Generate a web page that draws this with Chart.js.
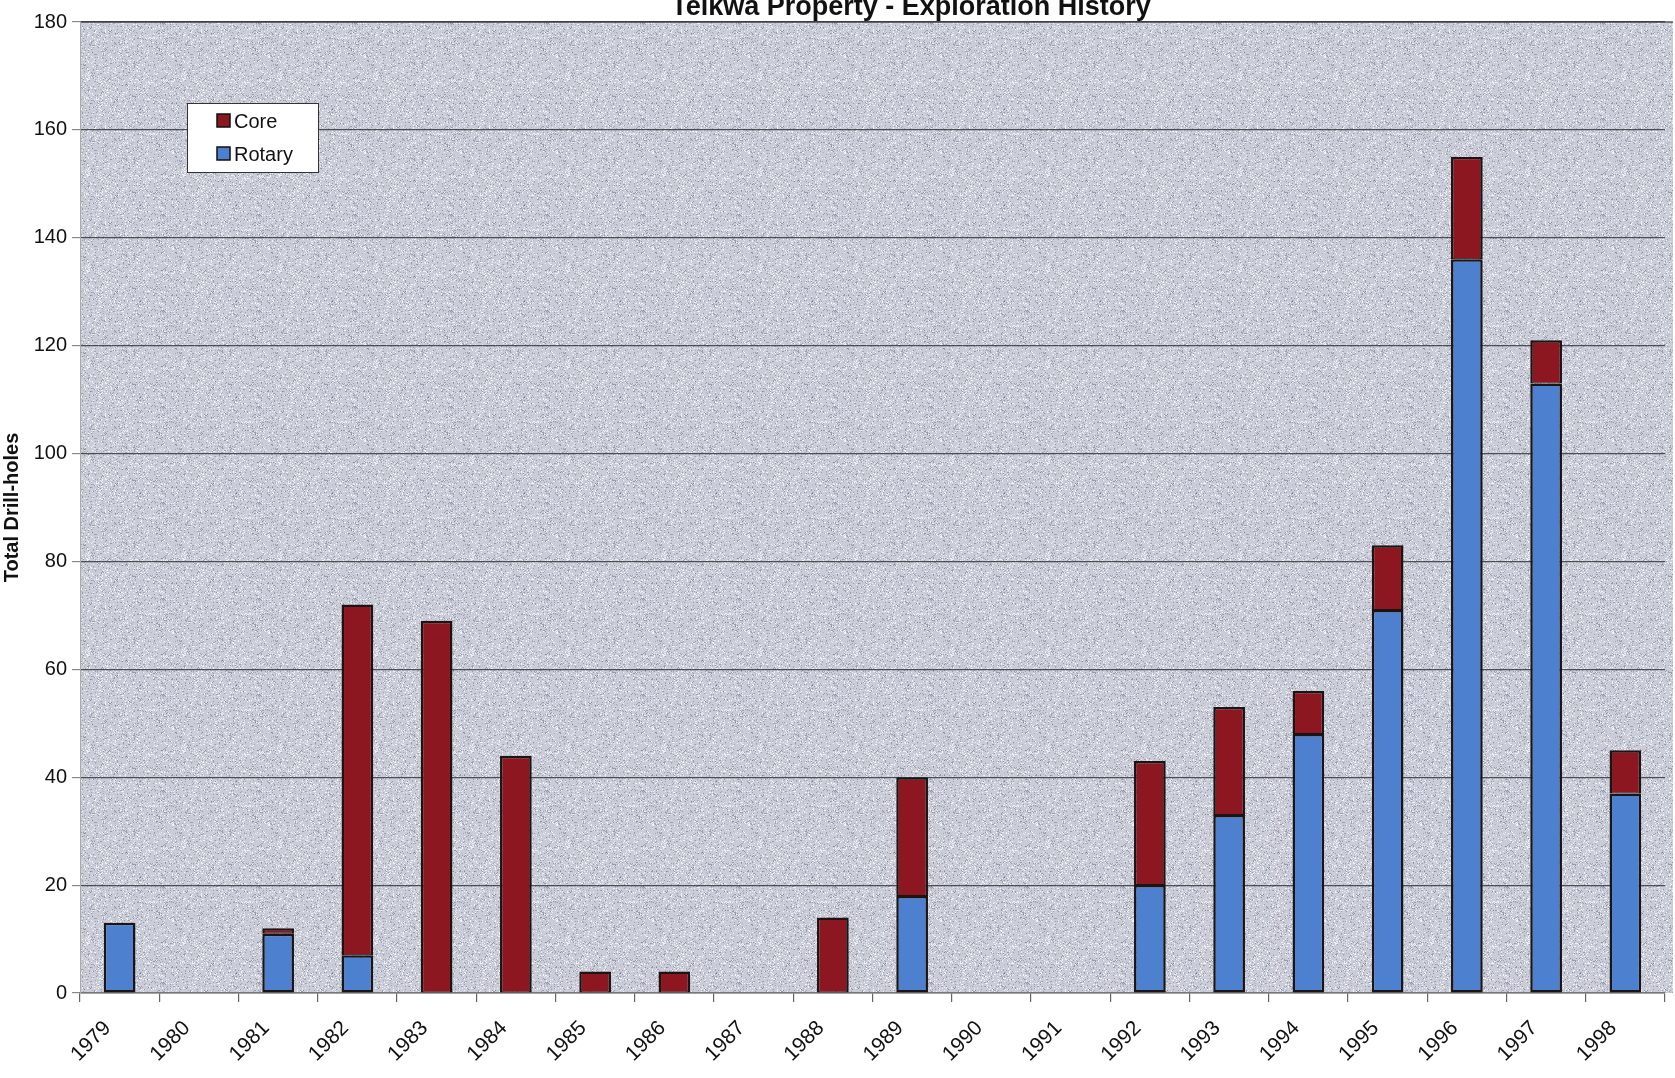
<!DOCTYPE html>
<html>
<head>
<meta charset="utf-8">
<script src="https://cdn.jsdelivr.net/npm/chart.js@4.4.1/dist/chart.umd.min.js"></script>
<style>
  body { margin: 0; background: #fff; overflow: hidden; }
  canvas { display: block; }
</style>
</head>
<body>
<canvas id="chart" width="1675" height="1078"></canvas>
<script>
const years = ["1979", "1980", "1981", "1982", "1983", "1984", "1985", "1986", "1987", "1988",
  "1989", "1990", "1991", "1992", "1993", "1994", "1995", "1996", "1997", "1998"],
  rotary = [13, 0, 11, 7, 0, 0, 0, 0, 0, 0, 18, 0, 0, 20, 33, 48, 71, 136, 113, 37],
  core = [0, 0, 1, 65, 69, 44, 4, 4, 0, 14, 22, 0, 0, 23, 20, 8, 12, 19, 8, 8],
  yMax = 180,
  yStep = 20,
  titleText = "Telkwa Property - Exploration History",
  font = '"Liberation Sans", Arial, sans-serif';

// speckled grey-blue fill like the scanned plot area
function speckle(base, seed) {
  const c = document.createElement("canvas");
  c.width = c.height = 96;
  const g = c.getContext("2d");
  g.fillStyle = base;
  g.fillRect(0, 0, 96, 96);
  let s = seed;
  const next = () => ((s = (s * 1103515245 + 12345) % 2147483648) / 2147483648);
  for (let i = 0; i < 2400; i++) {
    const x = Math.floor(next() * 96), y = Math.floor(next() * 96), r = next();
    g.fillStyle = r < 0.4 ? "rgba(110,112,125,0.5)" : r < 0.85 ? "rgba(248,249,255,0.85)" : "rgba(130,150,205,0.45)";
    g.fillRect(x, y, 1, 1);
  }
  return g.createPattern(c, "repeat");
}

const bgPlugin = {
  id: "plotBg",
  beforeDraw(chart) {
    const { ctx, chartArea: a } = chart;
    ctx.save();
    ctx.fillStyle = speckle("#cacdd8", 7);
    ctx.fillRect(a.left, a.top, a.right - a.left + 8, a.bottom - a.top);
    ctx.strokeStyle = "#555";
    ctx.lineWidth = 1.5;
    ctx.beginPath();
    ctx.moveTo(a.left, a.top);
    ctx.lineTo(a.right + 8, a.top);
    ctx.stroke();
    ctx.restore();
  },
};

const textPlugin = {
  id: "texts",
  afterDraw(chart) {
    const ctx = chart.ctx;
    ctx.save();
    ctx.fillStyle = "#111";
    ctx.font = "bold 27px " + font;
    ctx.textAlign = "center";
    ctx.textBaseline = "alphabetic";
    ctx.fillText(titleText, 911, 15);

    // legend box
    const bx = 187, by = 103, bw = 131, bh = 69;
    ctx.fillStyle = "#fff";
    ctx.fillRect(bx, by, bw, bh);
    ctx.strokeStyle = "#333";
    ctx.lineWidth = 1;
    ctx.strokeRect(bx + 0.5, by + 0.5, bw, bh);
    const items = chart.data.datasets.slice().reverse();
    ctx.font = "20px " + font;
    ctx.textAlign = "left";
    ctx.textBaseline = "middle";
    items.forEach((ds, i) => {
      const y = 121 + i * 33;
      ctx.fillStyle = ds.backgroundColor;
      ctx.fillRect(217, y - 7, 13, 13);
      ctx.strokeStyle = "#111";
      ctx.lineWidth = 1.5;
      ctx.strokeRect(217, y - 7, 13, 13);
      ctx.fillStyle = "#111";
      ctx.fillText(ds.label, 234, y + 1);
    });
    ctx.restore();
  },
};

new Chart(document.getElementById("chart"), {
  type: "bar",
  data: {
    labels: years,
    datasets: [
      {
        label: "Rotary",
        data: rotary.map((v) => v || null),
        backgroundColor: "#4d80cf",
        borderColor: "#1a1414",
        borderWidth: 2.5,
        borderSkipped: false,
        barPercentage: 0.4,
        categoryPercentage: 1,
      },
      {
        label: "Core",
        data: core.map((v) => v || null),
        backgroundColor: "#8c1720",
        borderColor: "#1a1414",
        borderWidth: { top: 2.5, left: 2.5, right: 2.5, bottom: 1 },
        borderSkipped: false,
        barPercentage: 0.4,
        categoryPercentage: 1,
      },
    ],
  },
  options: {
    responsive: false,
    devicePixelRatio: 1,
    animation: false,
    layout: { padding: { top: 22, right: 10, left: 0, bottom: 0 } },
    plugins: {
      legend: { display: false },
      title: { display: false },
      tooltip: { enabled: false },
    },
    scales: {
      x: {
        stacked: true,
        afterFit: (s) => { s.height = 85; },
        grid: { display: true, drawOnChartArea: false, offset: true, tickLength: 9, tickColor: "#666", lineWidth: 1.2 },
        border: { display: true, color: "#777", width: 1.5 },
        ticks: {
          minRotation: 45,
          maxRotation: 45,
          labelOffset: -12,
          padding: 14,
          color: "#111",
          font: { family: font, size: 21 },
        },
      },
      y: {
        stacked: true,
        min: 0,
        max: yMax,
        afterFit: (s) => { s.width = 80; },
        grid: { color: "rgba(55,55,60,0.85)", lineWidth: 1.2, tickLength: 8, tickColor: "#888" },
        border: { display: true, color: "#aaa", width: 1 },
        ticks: {
          stepSize: yStep,
          padding: 5,
          color: "#111",
          font: { family: font, size: 20 },
        },
        title: {
          display: true,
          text: "Total Drill-holes",
          color: "#111",
          padding: { top: 0, bottom: 0 },
          font: { family: font, size: 20, weight: "bold" },
        },
      },
    },
  },
  plugins: [bgPlugin, textPlugin],
});
</script>
</body>
</html>
